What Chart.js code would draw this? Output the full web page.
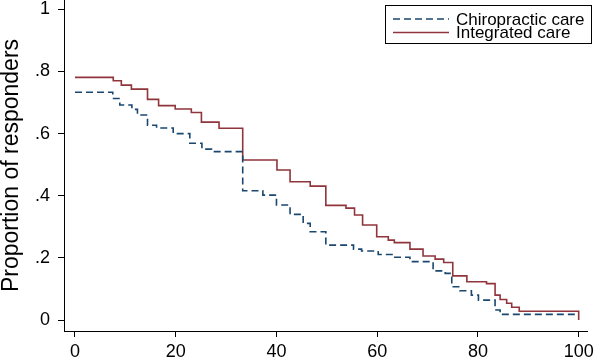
<!DOCTYPE html>
<html>
<head>
<meta charset="utf-8">
<script src="https://cdn.jsdelivr.net/npm/chart.js@4/dist/chart.umd.min.js"></script>
<style>
  body { margin: 0; background: #fff; }
  canvas { display: block; }
</style>
</head>
<body>
<canvas id="km" width="602" height="362"></canvas>
<script>
// series labels
var seriesNames = ['Chiropractic care', 'Integrated care'];

// chiropractic care: time of each step, proportion after the step
var chiroX = [0, 7.5, 8.9, 11.3, 12.4, 14.4, 16.2, 19.5, 22.8, 25.2, 27.1, 33.3, 37.3, 40.0, 42.7, 45.3, 46.7, 49.8, 55.3, 56.9, 60.2, 63.5, 66.5, 71.1, 73.5, 74.8, 76.4, 78.7, 80.1, 83.4, 84.4, 100];
var chiroY = [0.733, 0.713, 0.692, 0.678, 0.660, 0.627, 0.618, 0.600, 0.569, 0.550, 0.542, 0.416, 0.402, 0.370, 0.340, 0.311, 0.284, 0.241, 0.228, 0.222, 0.211, 0.202, 0.188, 0.158, 0.150, 0.107, 0.094, 0.080, 0.064, 0.032, 0.018, 0.018];

// integrated care
var integX = [0, 7.6, 9.2, 11.2, 14.4, 16.6, 19.9, 23.1, 25.1, 28.6, 33.3, 40.1, 42.7, 46.7, 49.8, 53.8, 55.5, 57.1, 59.9, 62.2, 63.4, 66.5, 69.1, 71.5, 73.2, 75.0, 77.8, 81.7, 83.4, 84.4, 85.7, 86.7, 88.2, 100];
var integY = [0.781, 0.770, 0.756, 0.743, 0.710, 0.690, 0.679, 0.668, 0.637, 0.617, 0.515, 0.483, 0.445, 0.431, 0.369, 0.360, 0.338, 0.306, 0.268, 0.257, 0.249, 0.228, 0.206, 0.196, 0.185, 0.142, 0.123, 0.117, 0.080, 0.066, 0.054, 0.041, 0.028, 0];

// axis ticks
var xTicks = [0, 20, 40, 60, 80, 100];
var yTicks = [0, 0.2, 0.4, 0.6, 0.8, 1];
var yTickLabels = ['0', '.2', '.4', '.6', '.8', '1'];

var blue = '#1a476f';
var red = '#90353b';
var fontName = '"Liberation Sans", Arial, sans-serif';

function toPoints(xs, ys) {
    var pts = [];
    for (var i = 0; i < xs.length; i++) pts.push({x: xs[i], y: ys[i]});
    return pts;
}

// no extra room for edge tick labels, plot area fills the canvas like stata
function noEdgePad(scale) {
    scale.paddingTop = 0;
    scale.paddingBottom = 0;
    scale.paddingLeft = 0;
    scale.paddingRight = 0;
}

// stata style legend box in the upper right
var boxLegend = {
    id: 'boxLegend',
    afterDraw: function(chart) {
        var ctx = chart.ctx;
        var ds = chart.data.datasets;
        ctx.save();
        ctx.fillStyle = '#fff';
        ctx.fillRect(385.5, 5.5, 206, 38);
        ctx.strokeStyle = '#000';
        ctx.lineWidth = 1;
        ctx.strokeRect(385.5, 5.5, 206, 38);
        for (var i = 0; i < ds.length; i++) {
            var y = 19 + i * 13.5;
            ctx.beginPath();
            ctx.strokeStyle = ds[i].borderColor;
            ctx.lineWidth = ds[i].borderWidth;
            ctx.setLineDash(ds[i].borderDash || []);
            ctx.moveTo(393, y);
            ctx.lineTo(449, y);
            ctx.stroke();
            ctx.setLineDash([]);
            ctx.fillStyle = '#000';
            ctx.font = '17px ' + fontName;
            ctx.textBaseline = 'middle';
            ctx.fillText(ds[i].label, 456, y + 1);
        }
        ctx.restore();
    }
};

var ctx = document.getElementById('km').getContext('2d');
var chart = new Chart(ctx, {
    type: 'line',
    data: {
        datasets: [{
            label: seriesNames[0],
            data: toPoints(chiroX, chiroY),
            borderColor: blue,
            borderWidth: 1.6,
            borderDash: [7, 4],
            stepped: true,
            pointRadius: 0,
            fill: false
        }, {
            label: seriesNames[1],
            data: toPoints(integX, integY),
            borderColor: red,
            borderWidth: 1.6,
            stepped: true,
            pointRadius: 0,
            fill: false
        }]
    },
    options: {
        responsive: false,
        animation: false,
        devicePixelRatio: 1,
        layout: { padding: { top: 0, right: 15, bottom: 0, left: 0 } },
        plugins: {
            legend: { display: false },
            tooltip: { enabled: false }
        },
        scales: {
            x: {
                type: 'linear',
                min: -2.18,
                max: 101.65,
                afterBuildTicks: function(scale) {
                    scale.ticks = xTicks.map(function(v) { return {value: v}; });
                },
                afterFit: function(scale) { scale.height = 31; noEdgePad(scale); },
                grid: { drawOnChartArea: false, drawTicks: true, tickLength: 6, color: '#000', tickWidth: 1 },
                border: { display: true, color: '#000', width: 1 },
                ticks: {
                    color: '#000',
                    font: { family: fontName, size: 18 },
                    padding: 4,
                    maxRotation: 0
                }
            },
            y: {
                type: 'linear',
                min: -0.0354,
                max: 1.03,
                afterBuildTicks: function(scale) {
                    scale.ticks = yTicks.map(function(v) { return {value: v}; });
                },
                afterFit: function(scale) { scale.width = 64; noEdgePad(scale); },
                grid: { drawOnChartArea: false, drawTicks: true, tickLength: 6, color: '#000', tickWidth: 1 },
                border: { display: true, color: '#000', width: 1 },
                ticks: {
                    color: '#000',
                    font: { family: fontName, size: 18 },
                    padding: 8,
                    callback: function(value) {
                        var i = yTicks.indexOf(value);
                        return i >= 0 ? yTickLabels[i] : '';
                    }
                },
                title: {
                    display: true,
                    text: 'Proportion of responders',
                    color: '#000',
                    font: { family: fontName, size: 23, lineHeight: 1 },
                    padding: 0
                }
            }
        }
    },
    plugins: [boxLegend]
});
</script>
</body>
</html>
